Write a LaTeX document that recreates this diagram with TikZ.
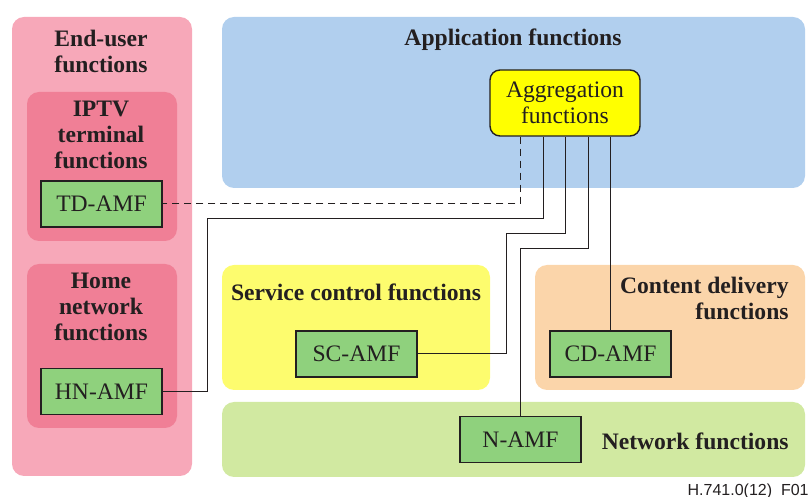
\documentclass[tikz,border=0pt]{standalone}
\usepackage{fontspec}
\setmainfont{Liberation Serif}
\setsansfont{Liberation Sans}
\usetikzlibrary{calc}

\definecolor{enduser}{HTML}{F7A8B9}
\definecolor{terminal}{HTML}{F07F96}
\definecolor{appl}{HTML}{B1CFEE}
\definecolor{aggr}{HTML}{FFFF00}
\definecolor{servctl}{HTML}{FDFC6E}
\definecolor{content}{HTML}{FBD5AA}
\definecolor{netw}{HTML}{D1E9A1}
\definecolor{amfgreen}{HTML}{8FD17D}
\definecolor{ink}{HTML}{231F20}

\begin{document}
\begin{tikzpicture}[x=0.5pt, y=-0.5pt,
					every node/.style = {font=\rmfamily\fontsize{11.8}{13}\selectfont, text=ink}]

\tikzstyle{area}=[rounded corners=6pt]
\tikzstyle{title}=[font=\rmfamily\fontsize{11.8}{13}\selectfont\bfseries, align=center, inner sep=0pt]
\tikzstyle{amf} = [rectangle, draw=ink, line width=0.7pt, fill=amfgreen, minimum width=60.5pt, minimum height=23pt, inner sep=0pt]
\tikzstyle{link} = [draw=ink, line width=0.5pt]

\useasboundingbox (0,0) rectangle (810,497);

% areas
\fill[area, enduser] (12,17) rectangle (192,476);
\fill[area, terminal] (27,92) rectangle (177,241);
\fill[area, terminal] (27,264) rectangle (177,428);
\fill[area, appl] (222,17) rectangle (805,188);
\fill[area, servctl] (222,265) rectangle (490,390);
\fill[area, content] (535,265) rectangle (805,390);
\fill[area, netw] (222,402) rectangle (805,477);

% titles
\node[title] (enduser) at (101,51) {End-user\\functions};
\node[title] (iptv) at (101,135) {IPTV\\terminal\\functions};
\node[title] (home) at (101,307) {Home\\network\\functions};
\node[title] (appl) at (513,40) {Application functions};
\node[title] (servctl) at (356,292) {Service control functions};
\node[title, align=right, anchor=east] (content) at (789,298) {Content delivery\\functions};
\node[title, anchor=east] (netw) at (789,441) {Network functions};

% aggregation and AMF boxes
\node[draw=ink, line width=0.7pt, fill=aggr, rounded corners=5pt, minimum width=75pt, minimum height=33pt, align=center, inner sep=0pt] (aggr) at (565,103) {Aggregation\\functions};
\node[amf] (tdamf) at (101.5,204) {TD-AMF};
\node[amf] (hnamf) at (101.5,391.5) {HN-AMF};
\node[amf] (scamf) at (356.5,354) {SC-AMF};
\node[amf] (cdamf) at (610.5,354) {CD-AMF};
\node[amf] (namf) at (520.5,439.5) {N-AMF};

% links to aggregation
\draw[link, dash pattern=on 3.5pt off 2.5pt] ($(aggr.south)+(-45,0)$) |- (tdamf.east);
\draw[link] ($(aggr.south)+(-22,0)$) |- (207,219) |- (hnamf.east);
\draw[link] (aggr.south) |- (506,234) |- (scamf.east);
\draw[link] ($(aggr.south)+(23,0)$) |- (namf.north |- 0,249) -- (namf.north);
\draw[link] (aggr.south -| cdamf.north) -- (cdamf.north);

\node[font=\sffamily\fontsize{8}{9}\selectfont, anchor=base east, inner sep=0pt] (figno) at (809,496) {H.741.0(12)\_F01};
\end{tikzpicture}
\end{document}
